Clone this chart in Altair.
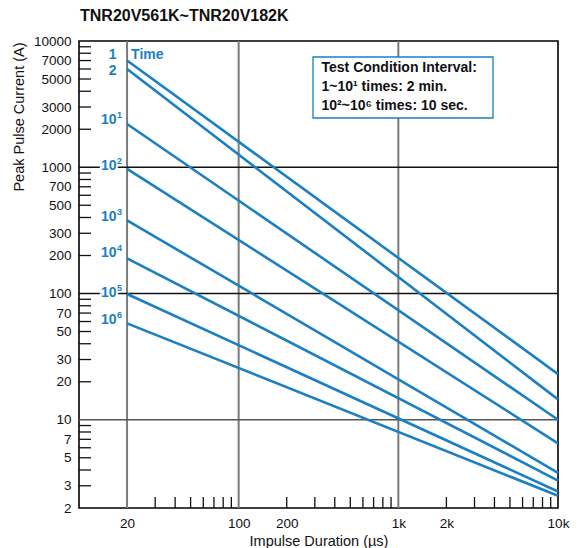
import altair as alt
import pandas as pd

# ---------------- data ----------------
series = ["1", "2", "10^1", "10^2", "10^3", "10^4", "10^5", "10^6"]
t_start = [20, 20, 20, 20, 20, 20, 20, 20]            # us
t_end = [10000, 10000, 10000, 10000, 10000, 10000, 10000, 10000]
i_start = [7000, 6000, 2200, 970, 380, 190, 99, 58]    # A at 20 us
i_end = [23, 14.5, 10, 6.5, 3.8, 3.3, 2.7, 2.5]        # A at 10 ms

label_base = ["1", "2", "10", "10", "10", "10", "10", "10"]
label_exp = ["", "", "1", "2", "3", "4", "5", "6"]
label_y = [7740, 5820, 2370, 1020, 406, 208, 101, 61.7]
label_x = 17.2

x_labels = [20, 100, 200, 1000, 2000, 10000]
y_labels = [2, 3, 5, 7, 10, 20, 30, 50, 70, 100, 200, 300, 500, 700,
            1000, 2000, 3000, 5000, 7000, 10000]
x_minor = [30, 40, 50, 60, 70, 80, 90,
           200, 300, 400, 500, 600, 700, 800, 900,
           2000, 3000, 4000, 5000, 6000, 7000, 8000, 9000]
y_minor = [3, 4, 5, 6, 7, 8, 9,
           20, 30, 40, 50, 60, 70, 80, 90,
           200, 300, 400, 500, 600, 700, 800, 900,
           2000, 3000, 4000, 5000, 6000, 7000, 8000, 9000]
x_grid = [20, 100, 1000]
y_grid = [10, 100, 1000]
y_grid_color = ["#555555", "#111111", "#111111"]

title_text = "TNR20V561K~TNR20V182K"
box_lines = ["Test Condition Interval:", "1~10\u00b9 times: 2 min.",
             "10\u00b2~10\u2076 times: 10 sec."]

# ---------------- build tables ----------------
rows = []
for s, t0, t1, a0, a1 in zip(series, t_start, t_end, i_start, i_end):
    rows.append({"series": s, "x": t0, "y": a0})
    rows.append({"series": s, "x": t1, "y": a1})
lines_df = pd.DataFrame(rows)
labels_df = pd.DataFrame({"x": [label_x] * len(series), "y": label_y,
                          "base": label_base, "exp": label_exp})

W, H = 479, 467
BLUE = "#1a7fc3"
FONT = "Liberation Sans"

xscale = alt.Scale(type="log", domain=[10, 10000], nice=False)
yscale = alt.Scale(type="log", domain=[2, 10000], nice=False)

x_axis = alt.Axis(values=x_labels, ticks=False, domain=False, grid=False,
                  labelExpr="datum.value >= 1000 ? format(datum.value/1000, 'd') + 'k' : format(datum.value, 'd')",
                  labelFontSize=13.5, labelFont=FONT, labelColor="#111",
                  labelPadding=8, labelFlush=False, labelOverlap=False,
                  title="Impulse Duration (\u00b5s)", titleFont=FONT,
                  titleFontSize=14.5, titleFontWeight="normal", titleColor="#111",
                  titleX=W / 2, titleY=33, titleAlign="center", titleBaseline="middle")
y_axis = alt.Axis(values=y_labels, ticks=False, domain=False, grid=False,
                  format="d", labelFontSize=13.5, labelFont=FONT, labelColor="#111",
                  labelPadding=8, labelFlush=False, labelOverlap=False,
                  title="Peak Pulse Current (A)", titleFont=FONT,
                  titleFontSize=14.5, titleFontWeight="normal", titleColor="#111",
                  titleX=-59.5, titleY=75.5, titleAngle=270, titleAlign="center",
                  titleBaseline="middle")

X = alt.X("x:Q", scale=xscale, axis=x_axis)
Y = alt.Y("y:Q", scale=yscale, axis=y_axis)

one = pd.DataFrame({"k": [0]})

lines = alt.Chart(lines_df).mark_line(color=BLUE, strokeWidth=2.6).encode(
    x=X, y=Y, detail="series:N")

vgrid = alt.Chart(pd.DataFrame({"x": x_grid})).mark_rule(
    color="#7a7a7a", strokeWidth=2).encode(x=X)
hgrid = alt.Chart(pd.DataFrame({"y": y_grid, "c": y_grid_color})).mark_rule(
    strokeWidth=1.4).encode(y=Y, color=alt.Color("c:N", scale=None))

yticks = alt.Chart(pd.DataFrame({"y": y_minor})).mark_rule(
    color="#111", strokeWidth=1.3).encode(y=Y, x=alt.value(0), x2=alt.value(12))
xticks = alt.Chart(pd.DataFrame({"x": x_minor})).mark_rule(
    color="#111", strokeWidth=1.3).encode(x=X, y=alt.value(H), y2=alt.value(H - 11))

# white halo behind the labels so that the grid lines break around them
halo_base = alt.Chart(labels_df).mark_text(
    align="right", baseline="middle", font=FONT, fontSize=14, fontWeight="bold",
    color="white", stroke="white", strokeWidth=4).encode(x=X, y=Y, text="base:N")
halo_exp = alt.Chart(labels_df).mark_text(
    align="left", baseline="middle", font=FONT, fontSize=9, fontWeight="bold",
    color="white", stroke="white", strokeWidth=3, dx=0.5, dy=-5).encode(
    x=X, y=Y, text="exp:N")
lab_base = alt.Chart(labels_df).mark_text(
    align="right", baseline="middle", font=FONT, fontSize=14, fontWeight="bold",
    color=BLUE).encode(x=X, y=Y, text="base:N")
lab_exp = alt.Chart(labels_df).mark_text(
    align="left", baseline="middle", font=FONT, fontSize=9, fontWeight="bold",
    color=BLUE, dx=0.5, dy=-5).encode(x=X, y=Y, text="exp:N")
time_lab = alt.Chart(pd.DataFrame({"x": [21.2], "y": [label_y[0]]})).mark_text(
    align="left", baseline="middle", font=FONT, fontSize=14, fontWeight="bold",
    color=BLUE).encode(x=X, y=Y, text=alt.value("Time"))

box = alt.Chart(one).mark_rect(fill="white", stroke=BLUE, strokeWidth=1.3).encode(
    x=alt.value(234), x2=alt.value(414), y=alt.value(16), y2=alt.value(77))
box_texts = [
    alt.Chart(one).mark_text(align="left", baseline="middle", font=FONT,
                             fontSize=14, fontWeight="bold", color="#111").encode(
        x=alt.value(242.5), y=alt.value(yy), text=alt.value(t))
    for t, yy in zip(box_lines, [26.7, 45.7, 64.7])
]

title = alt.Chart(one).mark_text(align="left", baseline="middle", font=FONT,
                                 fontSize=16, fontWeight="bold", color="#111").encode(
    x=alt.value(1), y=alt.value(-25), text=alt.value(title_text))

chart = alt.layer(
    vgrid, hgrid, yticks, xticks, lines, halo_base, halo_exp, lab_base, lab_exp,
    time_lab, box, *box_texts, title
).properties(
    width=W, height=H,
    background="white",
    autosize=alt.AutoSizeParams(type="none"),
    padding={"left": 71, "top": 33, "right": 17, "bottom": 48},
).configure_view(stroke="black", strokeWidth=1.6)

chart.save("out.html", embed_options={"renderer": "svg", "actions": False})
